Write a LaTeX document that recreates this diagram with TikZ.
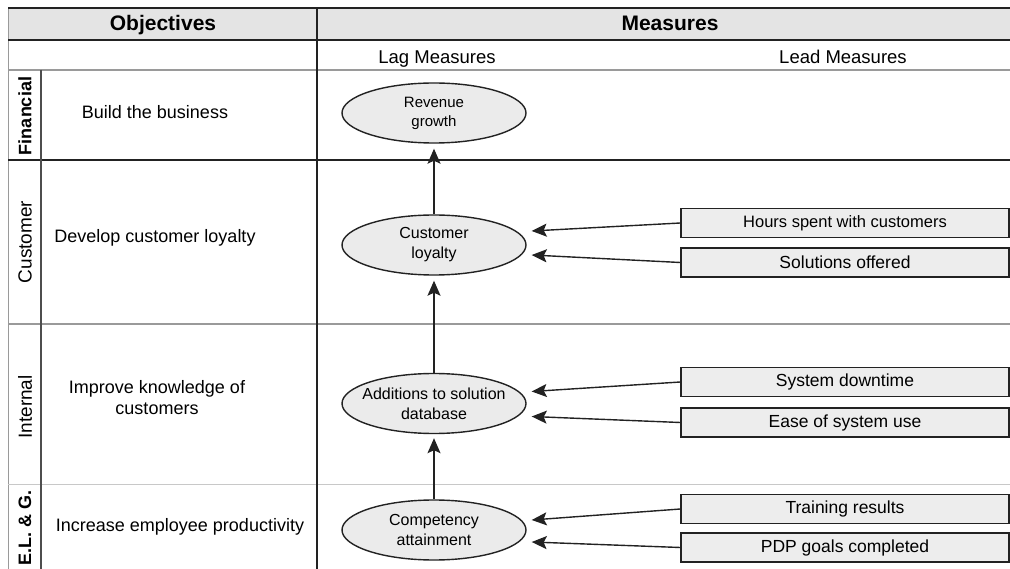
\documentclass[tikz,border=0pt]{standalone}
\usepackage{fontspec}
\setmainfont{Liberation Sans}
\usetikzlibrary{arrows.meta,shapes.geometric,calc}

\definecolor{hdrfill}{HTML}{E4E4E4}
\definecolor{ellfill}{HTML}{EBEBEB}
\definecolor{boxfill}{HTML}{EDEDED}
\definecolor{rulegray}{HTML}{9A9A9A}
\definecolor{rulelight}{HTML}{C8C8C8}
\definecolor{ink}{HTML}{222222}

\tikzset{
  hdr/.style={font=\bfseries\fontsize{21}{25}\selectfont, anchor=base, inner sep=0pt},
  sublabel/.style={font=\fontsize{18.5}{22}\selectfont, anchor=base, inner sep=0pt},
  objtext/.style={font=\fontsize{18}{21}\selectfont, align=center, inner sep=0pt},
  rowlab/.style={font=\fontsize{19}{22}\selectfont, rotate=90, inner sep=0pt},
  lagell/.style={ellipse, draw=ink, line width=1.4pt, fill=ellfill,
    minimum width=184pt, minimum height=60pt, inner sep=0pt},
  elltext/.style={font=\fontsize{16}{20}\selectfont, align=center, inner sep=0pt},
  leadbox/.style={rectangle, draw=ink, line width=1.3pt, fill=boxfill,
    minimum width=328pt, minimum height=29pt, inner sep=0pt,
    font=\fontsize{17.5}{21}\selectfont},
  link/.style={line width=1.4pt, draw=ink,
    -{Stealth[length=15pt, width=13pt, inset=3pt]}},
  darkrule/.style={draw=ink, line width=2.2pt},
}

\begin{document}
\begin{tikzpicture}[x=1pt, y=-1pt]
\useasboundingbox (0,0) rectangle (1010,569);

% header band
\fill[hdrfill] (8,8) rectangle (1012,40);

% table rules
\draw[rulegray, line width=1pt] (8,8) -- (8,569);
\draw[darkrule] (8,8) -- (1012,8);
\draw[darkrule] (8,40) -- (1012,40);
\draw[rulegray, line width=1.3pt] (8,70) -- (1012,70);
\draw[ink, line width=1.6pt] (8,160) -- (1012,160);
\draw[rulegray, line width=2pt] (8,324) -- (1012,324);
\draw[rulelight, line width=1pt] (8,484) -- (1012,484);
\draw[ink!80, line width=1.5pt] (41,70) -- (41,569);
\draw[darkrule] (317,8) -- (317,569);

% column headings
\node[hdr] (objh) at (163,30.5) {Objectives};
\node[hdr] (meash) at (670,30.5) {Measures};
\node[sublabel] (lagh) at (437,63.5) {Lag Measures};
\node[sublabel] (leadh) at (843,63.5) {Lead Measures};

% perspective labels
\node[rowlab, font=\bfseries\fontsize{18}{22}\selectfont] (pfin) at (25,116) {Financial};
\node[rowlab] (pcus) at (25,242) {Customer};
\node[rowlab] (pint) at (25,407) {Internal};
\node[rowlab, font=\bfseries\fontsize{18}{22}\selectfont] (pelg) at (25,528) {E.L. \& G.};

% objectives
\node[objtext] (obuild) at (155,112) {Build the business};
\node[objtext] (odev) at (155,238) {Develop customer loyalty};
\node[objtext] (oimp) at (157,398) {Improve knowledge of\\customers};
\node[objtext] (oinc) at (180,527) {Increase employee productivity};

% lag measures
\node[lagell] (rev) at (434,113) {};
\node[elltext, font=\fontsize{15}{19}\selectfont] (revt) at (rev) {Revenue\\growth};
\node[lagell] (cus) at (434,245) {};
\node[elltext] (cust) at (cus) {Customer\\loyalty};
\node[lagell] (add) at (434,403.5) {};
\node[elltext] (addt) at (add) {Additions to solution\\database};
\node[lagell] (comp) at (434,530) {};
\node[elltext] (compt) at (comp) {Competency\\attainment};

% lead measures
\node[leadbox, font=\fontsize{16.5}{20}\selectfont] (hours) at (845,223) {Hours spent with customers};
\node[leadbox] (sol) at (845,262.5) {Solutions offered};
\node[leadbox] (down) at (845,382) {System downtime};
\node[leadbox] (ease) at (845,422.5) {Ease of system use};
\node[leadbox] (train) at (845,509) {Training results};
\node[leadbox] (pdp) at (845,547.5) {PDP goals completed};

% cause-and-effect chain
\draw[link, shorten >=5pt] (cus.north) -- (rev.south);
\draw[link, shorten >=5pt] (add.north) -- (cus.south);
\draw[link, shorten >=4pt] (comp.north) -- (add.south);

% lead-to-lag links
\draw[link] (hours.west) -- ($(cus.east)+(5,-14)$);
\draw[link] (sol.west) -- ($(cus.east)+(5,10)$);
\draw[link] (down.west) -- ($(add.east)+(5,-12)$);
\draw[link] (ease.west) -- ($(add.east)+(5,13)$);
\draw[link] (train.west) -- ($(comp.east)+(5,-10)$);
\draw[link] (pdp.west) -- ($(comp.east)+(5,12)$);
\end{tikzpicture}
\end{document}
